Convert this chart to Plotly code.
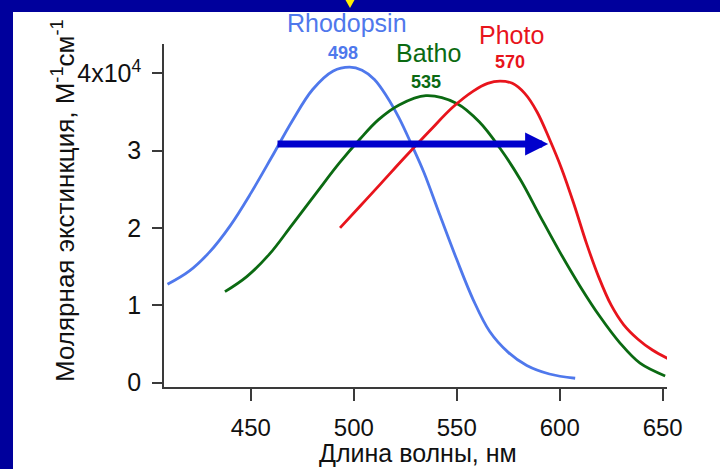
import plotly.graph_objects as go

# ---------------- data ----------------
rhodopsin_nm = [409.5, 420, 430, 440, 450, 460, 470, 480, 490, 498, 504, 510, 516, 522,
                528, 534, 542, 550, 558, 566, 575, 584, 595, 607.5]
rhodopsin_val = [1.27, 1.44, 1.69, 2.03, 2.45, 2.91, 3.38, 3.79, 4.03, 4.08, 4.04, 3.92,
                 3.70, 3.42, 3.08, 2.72, 2.15, 1.59, 1.07, 0.66, 0.39, 0.22, 0.11, 0.055]

batho_nm = [437.4, 448, 459, 470, 482, 493, 503, 512, 522, 535, 550,
            561, 571, 581, 590.5, 600, 610, 619.6, 629.3, 639, 651.2]
batho_val = [1.175, 1.37, 1.66, 2.04, 2.46, 2.84, 3.15, 3.40, 3.59, 3.71, 3.61,
             3.37, 3.03, 2.62, 2.15, 1.69, 1.24, 0.85, 0.51, 0.25, 0.085]

photo_nm = [493.3, 503, 513, 525, 537, 548, 558, 565, 571, 577, 583, 589, 595, 601,
            607, 613, 619, 625, 631, 638, 645, 652.5]
photo_val = [2.0, 2.28, 2.57, 2.92, 3.26, 3.56, 3.77, 3.87, 3.90, 3.87, 3.74, 3.50, 3.15,
             2.76, 2.30, 1.80, 1.36, 1.00, 0.75, 0.56, 0.42, 0.31]

x_ticks = [450, 500, 550, 600, 650]
y_ticks = [0, 1, 2, 3, 4]
y_tick_text = ["0", "1", "2", "3", "4x10<sup>4</sup>"]

series_names = ["Rhodopsin", "Batho", "Photo"]
series_peaks = ["498", "535", "570"]

# arrow (wavelength shift) start / end in data units
arrow_from = (462.2, 3.085)
arrow_to = (594.4, 3.085)

# ---------------- style ----------------
BLUE = "#4f78ec"
GREEN = "#0b6a12"
RED = "#e8141c"
NAVY = "#00009c"
ARROW = "#0000cc"
AXIS = "#3a3a3a"
FONT = "Arial, Liberation Sans, sans-serif"

W, H = 720, 469
L, R, T, B = 164, 53, 44, 82
PW, PH = W - L - R, H - T - B
XR = [407.8, 652.1]
YR = [-0.058, 4.379]


def px_x(p):
    return (p - L) / PW


def px_y(p):
    return (H - B - p) / PH


def dx(v):  # data x -> paper
    return (v - XR[0]) / (XR[1] - XR[0])


def dy(v):  # data y -> paper
    return (v - YR[0]) / (YR[1] - YR[0])


fig = go.Figure()
for nm, val, col in [(rhodopsin_nm, rhodopsin_val, BLUE),
                     (batho_nm, batho_val, GREEN),
                     (photo_nm, photo_val, RED)]:
    fig.add_trace(go.Scatter(x=nm, y=val, mode="lines",
                             line=dict(color=col, width=2.8, shape="spline", smoothing=1.0),
                             hoverinfo="skip", showlegend=False, cliponaxis=False))

annotations = []
# curve labels: name and peak wavelength (positions in data units)
label_pos = {
    "Rhodopsin": ((496.9, 4.655), (494.9, 4.26)),
    "Batho": ((536.2, 4.26), (535.0, 3.89)),
    "Photo": ((576.7, 4.49), (575.9, 4.14)),
}
for name, peak, col in zip(series_names, series_peaks, [BLUE, GREEN, RED]):
    (nx, ny), (qx, qy) = label_pos[name]
    annotations.append(dict(x=dx(nx), y=dy(ny), xref="paper", yref="paper", text=name,
                            showarrow=False, font=dict(family=FONT, size=25, color=col),
                            xanchor="center", yanchor="middle"))
    annotations.append(dict(x=dx(qx), y=dy(qy), xref="paper", yref="paper",
                            text="<b>%s</b>" % peak, showarrow=False,
                            font=dict(family=FONT, size=18, color=col),
                            xanchor="center", yanchor="middle"))

# arrow
annotations.append(dict(x=arrow_to[0], y=arrow_to[1], ax=arrow_from[0], ay=arrow_from[1],
                        xref="x", yref="y", axref="x", ayref="y", text="",
                        showarrow=True, arrowhead=2, arrowwidth=7, arrowsize=0.66,
                        arrowcolor=ARROW, standoff=0, startstandoff=0))

# axis titles
annotations.append(dict(x=px_x(417.5), y=px_y(453), xref="paper", yref="paper",
                        text="Длина волны, нм", showarrow=False,
                        font=dict(family=FONT, size=25, color="#111"),
                        xanchor="center", yanchor="middle"))
annotations.append(dict(x=px_x(63), y=px_y(201), xref="paper", yref="paper",
                        text="Молярная экстинкция, М<sup>-1</sup>см<sup>-1</sup>",
                        textangle=-90, showarrow=False,
                        font=dict(family=FONT, size=26, color="#111"),
                        xanchor="center", yanchor="middle"))

shapes = [
    # navy frame (top and left bands)
    dict(type="rect", xref="paper", yref="paper", x0=px_x(0), x1=px_x(W), y0=px_y(12),
         y1=px_y(0), fillcolor=NAVY, line=dict(width=0), layer="below"),
    dict(type="rect", xref="paper", yref="paper", x0=px_x(0), x1=px_x(13), y0=px_y(H),
         y1=px_y(0), fillcolor=NAVY, line=dict(width=0), layer="below"),
    # small yellow pointer at top
    dict(type="path", xref="paper", yref="paper",
         path="M %f,%f L %f,%f L %f,%f Z" % (px_x(345.5), px_y(0), px_x(354.5), px_y(0),
                                             px_x(350), px_y(8)),
         fillcolor="#ffee00", line=dict(width=0)),
]

fig.update_layout(
    width=W, height=H, autosize=False,
    margin=dict(l=L, r=R, t=T, b=B, pad=0, autoexpand=False),
    paper_bgcolor="white", plot_bgcolor="white",
    showlegend=False, hovermode=False,
    annotations=annotations, shapes=shapes,
    font=dict(family=FONT, color="#111"),
    xaxis=dict(range=XR, tickvals=x_ticks, showgrid=False, zeroline=False,
               showline=True, linecolor=AXIS, linewidth=1.5, ticks="outside",
               ticklen=12, tickwidth=1.5, tickcolor=AXIS, automargin=False,
               tickfont=dict(family=FONT, size=24, color="#111"), ticklabelstandoff=6),
    yaxis=dict(range=YR, tickvals=y_ticks, ticktext=y_tick_text,
               showgrid=False, zeroline=False, automargin=False,
               showline=True, linecolor=AXIS, linewidth=1.5, ticks="outside",
               ticklen=10, tickwidth=1.5, tickcolor=AXIS,
               tickfont=dict(family=FONT, size=25, color="#111"), ticklabelstandoff=6),
)

fig.write_html("out.html", config={"displayModeBar": False},
               post_script="document.body.style.margin='0px';document.body.style.overflow='hidden';")
